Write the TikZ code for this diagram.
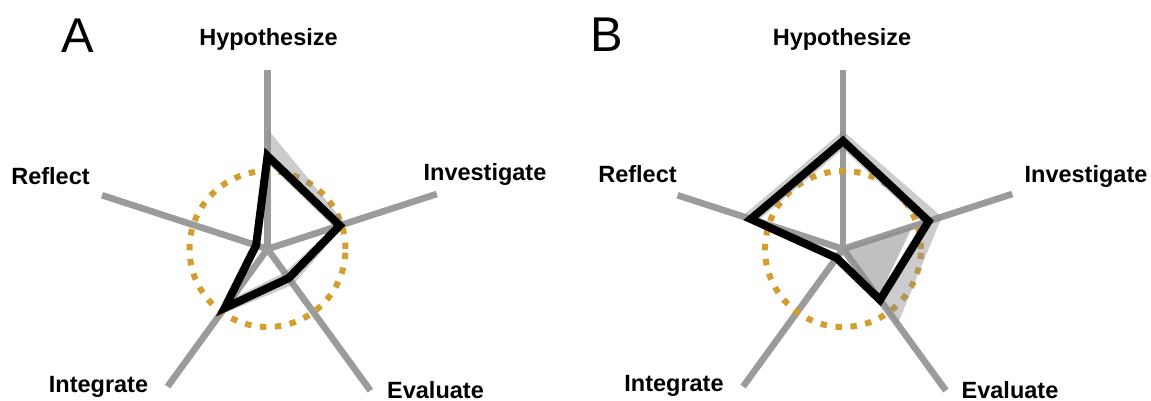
\documentclass[tikz,border=0pt]{standalone}
\usepackage{fontspec}
\setmainfont{Liberation Sans}
\usepackage{xcolor}
\definecolor{axisgray}{RGB}{155,155,155}
\definecolor{dotgold}{RGB}{212,158,46}

\tikzset{
	axisline/.style={axisgray, line width=3.3pt},
	meanline/.style={black, line width=4pt, line join=miter},
	refcircle/.style={dotgold, line width=3pt, dash pattern=on 3.2pt off 4.3pt},
	band/.style={fill=black!45, fill opacity=0.44},
	axislabel/.style={font=\fontsize{11.75}{14}\selectfont\bfseries, anchor=base, inner sep=0pt},
	panellabel/.style={font=\fontsize{24.4}{28}\selectfont, anchor=base, inner sep=0pt}
}

\begin{document}
\begin{tikzpicture}[x=0.5pt, y=0.5pt]
	\useasboundingbox (0,0) rectangle (1151,401);
	
	\coordinate (A0) at (267.5,152);
	\coordinate (B0) at (843,152);
	
	% axes and reference circle
	\foreach \c in {A0,B0} {
		\begin{scope}[shift={(\c)}]
			\foreach \a/\l/\n in {90/179/H, 18/178/I, -54/175/E, 234/170/G, 162/174/R} {
				\coordinate (\c\n) at (\a:\l);
				\draw[axisline] (\c) -- (\c\n);
			}
			\draw[refcircle] (\c) circle[radius=78];
		\end{scope}
	}
	
	% panel A
	\begin{scope}[shift={(A0)}]
		\fill[band] (90:120) -- (18:82) -- (18:70) -- (90:86) -- cycle;
		\fill[band] (18:82) -- (-54:44) -- (234:82) -- (234:62) -- (-54:29) -- (18:70) -- cycle;
		\draw[meanline] (90:93) -- (18:76) -- (-54:36) -- (234:73) -- (162:12) -- cycle;
	\end{scope}
	
	% panel B
	\begin{scope}[shift={(B0)}]
		\fill[band] (162:106) -- (90:118) -- (18:104) -- (18:84) -- (90:100) -- (162:90) -- cycle;
		\fill[band] (18:104) -- (-54:93) -- (-54:58) -- (18:84) -- cycle;
		\fill[band, fill opacity=0.55] (0,0) -- (18:73) -- (-54:60) -- cycle;
		\draw[meanline] (90:108) -- (18:90) -- (-54:63) -- (234:11) -- (162:97) -- cycle;
	\end{scope}
	
	% labels
	\node[panellabel] (labA) at (77.5,348) {A};
	\node[panellabel] (labB) at (607,349) {B};
	
	\node[axislabel] (hypA) at (268.5,355) {Hypothesize};
	\node[axislabel] (invA) at (485,220) {Investigate};
	\node[axislabel] (evaA) at (435.5,2.5) {Evaluate};
	\node[axislabel] (intA) at (98.5,8) {Integrate};
	\node[axislabel] (refA) at (50.5,216) {Reflect};
	
	\node[axislabel] (hypB) at (842,355) {Hypothesize};
	\node[axislabel] (invB) at (1086,218) {Investigate};
	\node[axislabel] (evaB) at (1010,2.5) {Evaluate};
	\node[axislabel] (intB) at (674,9) {Integrate};
	\node[axislabel] (refB) at (637.5,218) {Reflect};
\end{tikzpicture}
\end{document}
